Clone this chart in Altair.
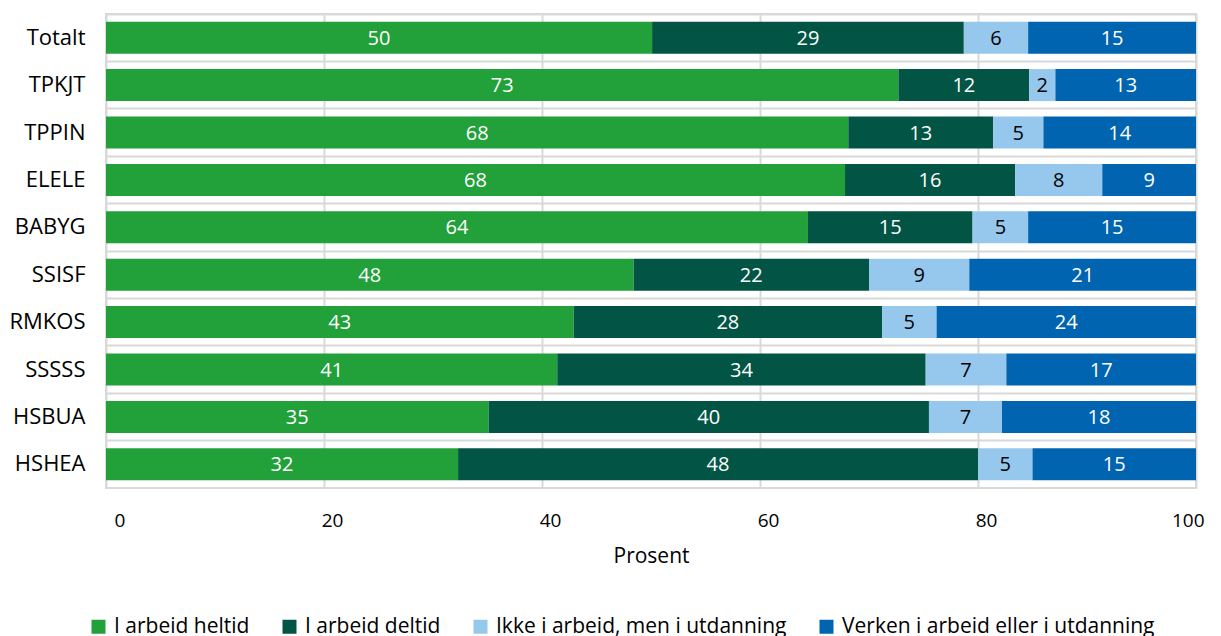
import altair as alt
import pandas as pd

categories = ["Totalt", "TPKJT", "TPPIN", "ELELE", "BABYG", "SSISF", "RMKOS", "SSSSS", "HSBUA", "HSHEA"]
series = ["I arbeid heltid", "I arbeid deltid", "Ikke i arbeid, men i utdanning", "Verken i arbeid eller i utdanning"]
heltid = [50.1, 72.7, 68.1, 67.8, 64.4, 48.4, 42.9, 41.4, 35.1, 32.3]
deltid = [28.6, 12.0, 13.3, 15.6, 15.1, 21.6, 28.3, 33.8, 40.4, 47.7]
utdanning = [5.9, 2.4, 4.6, 8.0, 5.1, 9.2, 5.0, 7.4, 6.7, 5.0]
verken = [15.4, 12.9, 14.0, 8.6, 15.4, 20.8, 23.8, 17.4, 17.8, 15.0]
colors = ["#22A03A", "#025544", "#96C8EE", "#0064B1"]
x_ticks = [0, 20, 40, 60, 80, 100]

rows = []
for si, (name, vals) in enumerate(zip(series, [heltid, deltid, utdanning, verken])):
    for cat, v in zip(categories, vals):
        rows.append({"cat": cat, "series": name, "value": v, "order": si})
df = pd.DataFrame(rows)

FONT = "Open Sans"

base = alt.Chart(df).transform_stack(
    stack="value", groupby=["cat"], sort=[alt.SortField("order")], as_=["x0", "x1"]
).transform_calculate(mid="(datum.x0 + datum.x1) / 2")

y_enc = alt.Y(
    "cat:N",
    sort=categories,
    scale=alt.Scale(paddingInner=0, paddingOuter=0),
    axis=alt.Axis(
        title=None, ticks=False, domain=False, grid=True, bandPosition=0,
        labelPadding=21, labelFontSize=22, labelColor="#000000",
    ),
)

bars = base.mark_bar(size=32).encode(
    y=y_enc,
    x=alt.X(
        "x0:Q",
        scale=alt.Scale(domain=[0, 100], nice=False),
        axis=alt.Axis(
            values=x_ticks, title="Prosent", ticks=False, domain=False, grid=True,
            labelOffset=8, labelPadding=23, labelFontSize=19, labelColor="#000000",
            titleFontSize=21, titleFontWeight="normal", titlePadding=15, titleColor="#000000",
        ),
    ),
    x2="x1:Q",
    color=alt.Color(
        "series:N",
        scale=alt.Scale(domain=series, range=colors),
        legend=alt.Legend(
            orient="none", legendX=-18, legendY=602, direction="horizontal",
            title=None, symbolType="square", symbolSize=196, symbolStrokeWidth=0,
            symbolOpacity=1, labelFontSize=21, labelOffset=5, columnPadding=29,
            labelLimit=0, labelColor="#000000", padding=0,
        ),
    ),
)

texts = base.mark_text(fontSize=20, font=FONT, dy=1).encode(
    y=alt.Y("cat:N", sort=categories),
    x=alt.X("mid:Q"),
    text=alt.Text("value:Q", format=".0f"),
    color=alt.condition(
        alt.datum.series == series[2], alt.value("#000000"), alt.value("#ffffff")
    ),
)

chart = alt.layer(bars, texts).properties(
    width=1090, height=474,
    padding={"left": 0, "top": 6, "right": 5, "bottom": 0},
).configure_axis(
    labelFont=FONT, titleFont=FONT, gridColor="#d9d9d9", gridWidth=2,
).configure_legend(
    labelFont=FONT,
).configure_view(
    stroke="#d9d9d9", strokeWidth=2,
)

chart.save("out.html", embed_options={"renderer": "svg", "actions": False})
